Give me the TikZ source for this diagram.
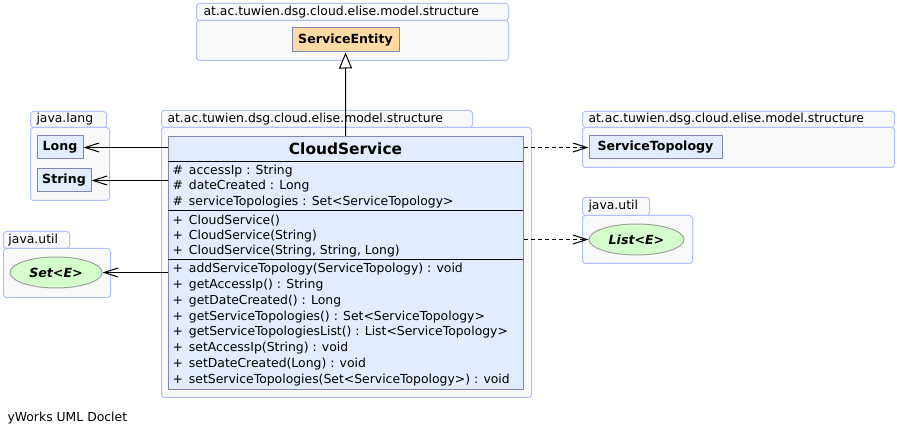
\documentclass[tikz,border=0pt]{standalone}
\usepackage{fontspec}
\setmainfont{DejaVu Sans}
\usetikzlibrary{arrows.meta,positioning,shapes.geometric}
\definecolor{pkgline}{HTML}{B4BEFA}
\definecolor{pkgfill}{HTML}{F9F9F9}
\definecolor{clsline}{HTML}{8585B5}
\definecolor{clsfill}{HTML}{E1ECFF}
\definecolor{entfill}{HTML}{FFDBA3}
\definecolor{ifcfill}{HTML}{D4FFCC}
\definecolor{ifcline}{HTML}{A0A0A0}
\newcommand{\vis}[1]{\makebox[16.5pt][l]{#1}}

\begin{document}
\begin{tikzpicture}[x=1pt,y=-1pt,line width=1pt,
  font=\fontsize{12.4}{14}\selectfont,
  pkg tab/.style={draw=pkgline,fill=pkgfill,rounded corners=3pt,anchor=north west,inner sep=0pt,minimum height=17pt},
  pkg body/.style={draw=pkgline,fill=pkgfill,rounded corners=3pt,anchor=north west,inner sep=0pt},
  pkg label/.style={anchor=west,inner sep=0pt},
  class node/.style={rectangle,draw=clsline,fill=clsfill,inner sep=0pt,minimum height=23pt,font=\fontsize{12.6}{14}\bfseries},
  iface node/.style={ellipse,draw=ifcline,fill=ifcfill,inner sep=0pt,minimum height=31pt,font=\fontsize{12.6}{14}\bfseries\itshape},
  member/.style={anchor=west,inner sep=0pt},
  uses/.style={-{Straight Barb[length=14pt,width=9pt]}},
  depends/.style={uses,dash pattern=on 4pt off 3pt},
  extends/.style={-{Triangle[open,length=16pt,width=13pt,fill=white]}}]

  \useasboundingbox (0,0) rectangle (897,435);

  % packages
  \node[pkg tab,minimum width=312pt] (topTab) at (196,3) {};
  \node[pkg body,minimum width=312pt,minimum height=40pt] (topPkg) at (196,20) {};
  \node[pkg label] (topLbl) at ([xshift=7pt]topTab.west) {at.ac.tuwien.dsg.cloud.elise.model.structure};

  \node[pkg tab,minimum width=311pt] (midTab) at (161,110) {};
  \node[pkg body,minimum width=370pt,minimum height=270pt] (midPkg) at (161,127) {};
  \node[pkg label] (midLbl) at ([xshift=6pt]midTab.west) {at.ac.tuwien.dsg.cloud.elise.model.structure};

  \node[pkg tab,minimum width=76pt,minimum height=16pt] (langTab) at (30,111) {};
  \node[pkg body,minimum width=79pt,minimum height=73pt] (langPkg) at (30,127) {};
  \node[pkg label] (langLbl) at ([xshift=6pt]langTab.west) {java.lang};

  \node[pkg tab,minimum width=66pt] (utilTab) at (3,231) {};
  \node[pkg body,minimum width=107pt,minimum height=49pt] (utilPkg) at (3,248) {};
  \node[pkg label] (utilLbl) at ([xshift=5pt]utilTab.west) {java.util};

  \node[pkg tab,minimum width=312pt,minimum height=16pt] (topoTab) at (582,111) {};
  \node[pkg body,minimum width=312pt,minimum height=40pt] (topoPkg) at (582,127) {};
  \node[pkg label] (topoLbl) at ([xshift=6pt]topoTab.west) {at.ac.tuwien.dsg.cloud.elise.model.structure};

  \node[pkg tab,minimum width=67pt,minimum height=18pt] (listTab) at (582,197) {};
  \node[pkg body,minimum width=110pt,minimum height=48pt] (listPkg) at (582,215) {};
  \node[pkg label] (listLbl) at ([xshift=6pt]listTab.west) {java.util};

  % classes
  \node[class node,fill=entfill,minimum width=107pt,minimum height=24pt] (entity) at (345.5,40) {ServiceEntity};
  \node[class node,minimum width=46pt] (long) at (60,147.5) {Long};
  \node[class node,minimum width=54pt] (string) at (64,180.5) {String};
  \node[class node,minimum width=133pt] (topo) at (655.5,147.5) {ServiceTopology};
  \node[iface node,minimum width=92pt] (setE) at (56,272.5) {Set<E>};
  \node[iface node,minimum width=95pt] (listE) at (636.5,239.5) {List<E>};

  \node[rectangle,draw=clsline,fill=clsfill,anchor=north west,inner sep=0pt,
        minimum width=355pt,minimum height=253pt] (cs) at (168,136) {};
  \node[inner sep=0pt,font=\fontsize{15.4}{17}\bfseries] (csName) at (345.5,149) {CloudService};
  \draw (168,162) -- (523,162);
  \draw (168,211) -- (523,211);
  \draw (168,260) -- (523,260);

  \node[member] (a1) at (172,171) {\vis{\#}accessIp : String};
  \node[member] (a2) at (172,186.5) {\vis{\#}dateCreated : Long};
  \node[member] (a3) at (172,202) {\vis{\#}serviceTopologies : Set<ServiceTopology>};
  \node[member] (c1) at (172,220.5) {\vis{+}CloudService()};
  \node[member] (c2) at (172,236) {\vis{+}CloudService(String)};
  \node[member] (c3) at (172,251.5) {\vis{+}CloudService(String, String, Long)};
  \foreach \op [count=\i] in {addServiceTopology(ServiceTopology) : void,
      getAccessIp() : String, getDateCreated() : Long,
      getServiceTopologies() : Set<ServiceTopology>,
      getServiceTopologiesList() : List<ServiceTopology>,
      setAccessIp(String) : void, setDateCreated(Long) : void,
      setServiceTopologies(Set<ServiceTopology>) : void}
    \node[member] (o\i) at (172,253.5+15.8*\i) {\vis{+}\op};

  % relations
  \draw[extends] (cs) -- (entity);
  \draw[uses] (cs.west |- long) -- (long);
  \draw[uses] (cs.west |- string) -- (string);
  \draw[uses] (cs.west |- setE) -- (setE);
  \draw[depends] (cs.east |- topo) -- (topo);
  \draw[depends] (cs.east |- listE) -- (listE);

  \node[anchor=west,inner sep=0pt] (footer) at (7,418) {yWorks UML Doclet};
\end{tikzpicture}
\end{document}
